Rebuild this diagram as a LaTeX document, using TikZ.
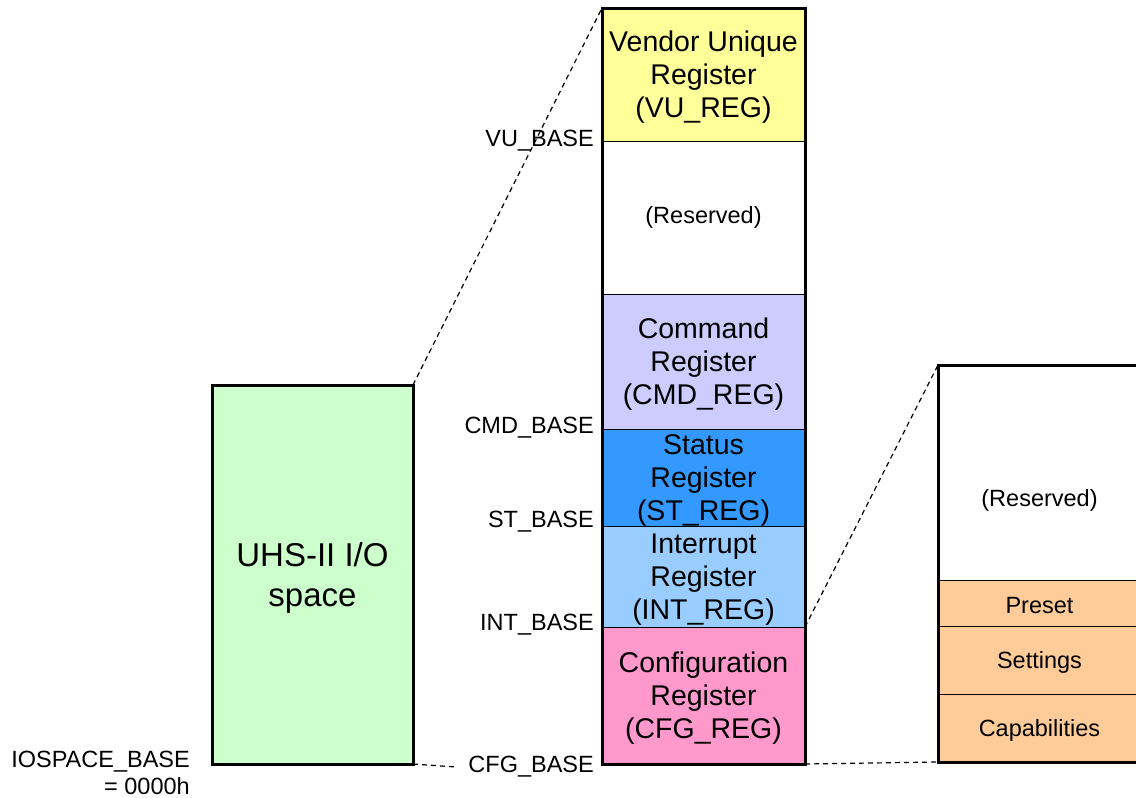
\documentclass[tikz,border=0pt]{standalone}
\usepackage{fontspec}
\setmainfont{Liberation Sans}
\usetikzlibrary{positioning}
\definecolor{vuyellow}{HTML}{FFFF99}
\definecolor{cmdlilac}{HTML}{CCCCFF}
\definecolor{stblue}{HTML}{3399FF}
\definecolor{intblue}{HTML}{99CCFF}
\definecolor{cfgpink}{HTML}{FF99CC}
\definecolor{uhsgreen}{HTML}{CCFFCC}
\definecolor{cfgorange}{HTML}{FFCC99}
\tikzset{
  seg/.style={draw=black,line width=1pt,minimum width=203pt,inner sep=0pt,
              outer sep=0pt,align=center,text depth=-2pt,
              font=\fontsize{28.5}{33}\selectfont},
  subseg/.style={seg,fill=cfgorange,text depth=,text height=22pt,
                 font=\fontsize{23.5}{27}\selectfont},
  frame/.style={draw=black,line width=3pt},
  base/.style={anchor=east,inner sep=0pt,align=right,font=\fontsize{23.5}{27}\selectfont},
  link/.style={line width=1.2pt,dash pattern=on 5pt off 4pt},
}
\begin{document}
\begin{tikzpicture}[x=1pt,y=-1pt]
  \useasboundingbox (0,0) rectangle (1136,798);
  \node[seg,frame,fill=uhsgreen,minimum width=201pt,minimum height=379pt,
        text depth=-3pt,font=\fontsize{33}{40}\selectfont] (uhs) at (312.5,574.5) {UHS-II I/O\\space};
  \node[seg,fill=vuyellow,minimum height=133pt,anchor=north west] (vu) at (602,8)
        {Vendor Unique\\Register\\(VU\_REG)};
  \node[seg,minimum height=153pt,below=0pt of vu,text depth=,
        font=\fontsize{23.5}{27}\selectfont] (rsv) {(Reserved)};
  \node[seg,fill=cmdlilac,minimum height=135pt,below=0pt of rsv] (cmd) {Command\\Register\\(CMD\_REG)};
  \node[seg,fill=stblue,minimum height=97pt,below=0pt of cmd,text depth=-8pt] (st) {Status\\Register\\(ST\_REG)};
  \node[seg,fill=intblue,minimum height=101pt,below=0pt of st] (int) {Interrupt\\Register\\(INT\_REG)};
  \node[seg,fill=cfgpink,minimum height=137pt,below=0pt of int] (cfg) {Configuration\\Register\\(CFG\_REG)};
  \draw[frame] (vu.north west) rectangle (cfg.south east);
  \node[subseg,fill=white,minimum height=215pt,anchor=north west,text height=73pt] (rsvb) at (938,365) {(Reserved)};
  \node[subseg,minimum height=46pt,below=0pt of rsvb] (pre) {Preset};
  \node[subseg,minimum height=68pt,below=0pt of pre] (set) {Settings};
  \node[subseg,minimum height=68pt,below=0pt of set] (cap) {Capabilities};
  \draw[frame] (rsvb.north west) rectangle (cap.south east);
  \node[base] (vub) at (594,141) {VU\_BASE};
  \node[base] (cmdb) at (594,428) {CMD\_BASE};
  \node[base] (stb) at (594,522) {ST\_BASE};
  \node[base] (intb) at (594,625) {INT\_BASE};
  \node[base] (cfgb) at (594,767) {CFG\_BASE};
  \node[base] (iob) at (190,773) {IOSPACE\_BASE\\= 0000h};
  \draw[link] (uhs.north east) -- (vu.north west);
  \draw[link] (uhs.south east) -- ([xshift=-12pt]cfgb.west);
  \draw[link] (cfg.north east) -- (rsvb.north west);
  \draw[link] (cfg.south east) -- (cap.south west);
\end{tikzpicture}
\end{document}
